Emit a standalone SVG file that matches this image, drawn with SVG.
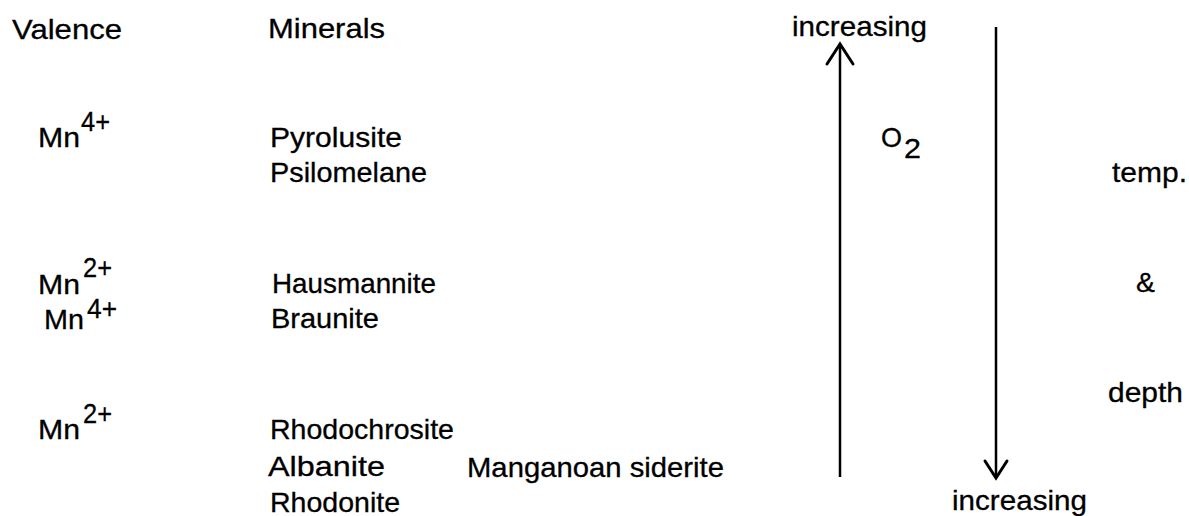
<svg xmlns="http://www.w3.org/2000/svg" width="1189" height="516" viewBox="0 0 1189 516">
<style>
text{font-family:"Liberation Sans",Arial,sans-serif;font-size:28px;fill:#000;stroke:#000;stroke-width:0.3}
.ln{stroke:#000;stroke-width:2.5;fill:none}
.hd{stroke:#000;stroke-width:3;fill:none;stroke-linecap:round;stroke-linejoin:miter}
</style>
<rect width="1189" height="516" fill="#fff"/>
<g id="header-valence"><text x="12" y="39" textLength="110" lengthAdjust="spacingAndGlyphs">Valence</text></g>
<g id="header-minerals"><text x="268" y="38" textLength="117" lengthAdjust="spacingAndGlyphs">Minerals</text></g>

<g id="valence-mn4"><text x="38" y="147" textLength="42" lengthAdjust="spacingAndGlyphs">Mn</text><text x="81" y="131" textLength="29" lengthAdjust="spacingAndGlyphs">4+</text></g>
<g id="minerals-mn4"><text x="270" y="147" textLength="132" lengthAdjust="spacingAndGlyphs">Pyrolusite</text><text x="270" y="182" textLength="157" lengthAdjust="spacingAndGlyphs">Psilomelane</text></g>

<g id="valence-mn24"><text x="38" y="294" textLength="42" lengthAdjust="spacingAndGlyphs">Mn</text><text x="83" y="277" textLength="29" lengthAdjust="spacingAndGlyphs">2+</text><text x="44" y="329" textLength="40" lengthAdjust="spacingAndGlyphs">Mn</text><text x="87" y="318" textLength="30" lengthAdjust="spacingAndGlyphs">4+</text></g>
<g id="minerals-mn24"><text x="272" y="293" textLength="164" lengthAdjust="spacingAndGlyphs">Hausmannite</text><text x="271" y="328" textLength="108" lengthAdjust="spacingAndGlyphs">Braunite</text></g>

<g id="valence-mn2"><text x="38" y="439" textLength="42" lengthAdjust="spacingAndGlyphs">Mn</text><text x="83" y="423" textLength="29" lengthAdjust="spacingAndGlyphs">2+</text></g>
<g id="minerals-mn2"><text x="270" y="439" textLength="184" lengthAdjust="spacingAndGlyphs">Rhodochrosite</text><text x="268" y="476" textLength="117" lengthAdjust="spacingAndGlyphs">Albanite</text><text x="270" y="512" textLength="130" lengthAdjust="spacingAndGlyphs">Rhodonite</text><text x="467" y="477" textLength="257" lengthAdjust="spacingAndGlyphs">Manganoan siderite</text></g>

<g id="label-increasing-top"><text x="792" y="36" textLength="135" lengthAdjust="spacingAndGlyphs">increasing</text></g>
<g id="label-o2"><text x="881" y="147" textLength="21" lengthAdjust="spacingAndGlyphs">O</text><text x="904" y="158" textLength="17" lengthAdjust="spacingAndGlyphs">2</text></g>
<g id="label-temp"><text x="1112" y="182" textLength="75" lengthAdjust="spacingAndGlyphs">temp.</text></g>
<g id="label-amp"><text x="1136" y="292" textLength="19" lengthAdjust="spacingAndGlyphs">&amp;</text></g>
<g id="label-depth"><text x="1108" y="402" textLength="75" lengthAdjust="spacingAndGlyphs">depth</text></g>
<g id="label-increasing-bottom"><text x="952" y="510" textLength="135" lengthAdjust="spacingAndGlyphs">increasing</text></g>

<g id="connectors">
<line class="ln" x1="840" y1="45" x2="840" y2="477"/>
<polyline class="hd" points="827,64 840,44 853,64"/>
<line class="ln" x1="996" y1="27" x2="996" y2="476"/>
<polyline class="hd" points="985,461 996,478 1007,461"/>
</g>
</svg>
